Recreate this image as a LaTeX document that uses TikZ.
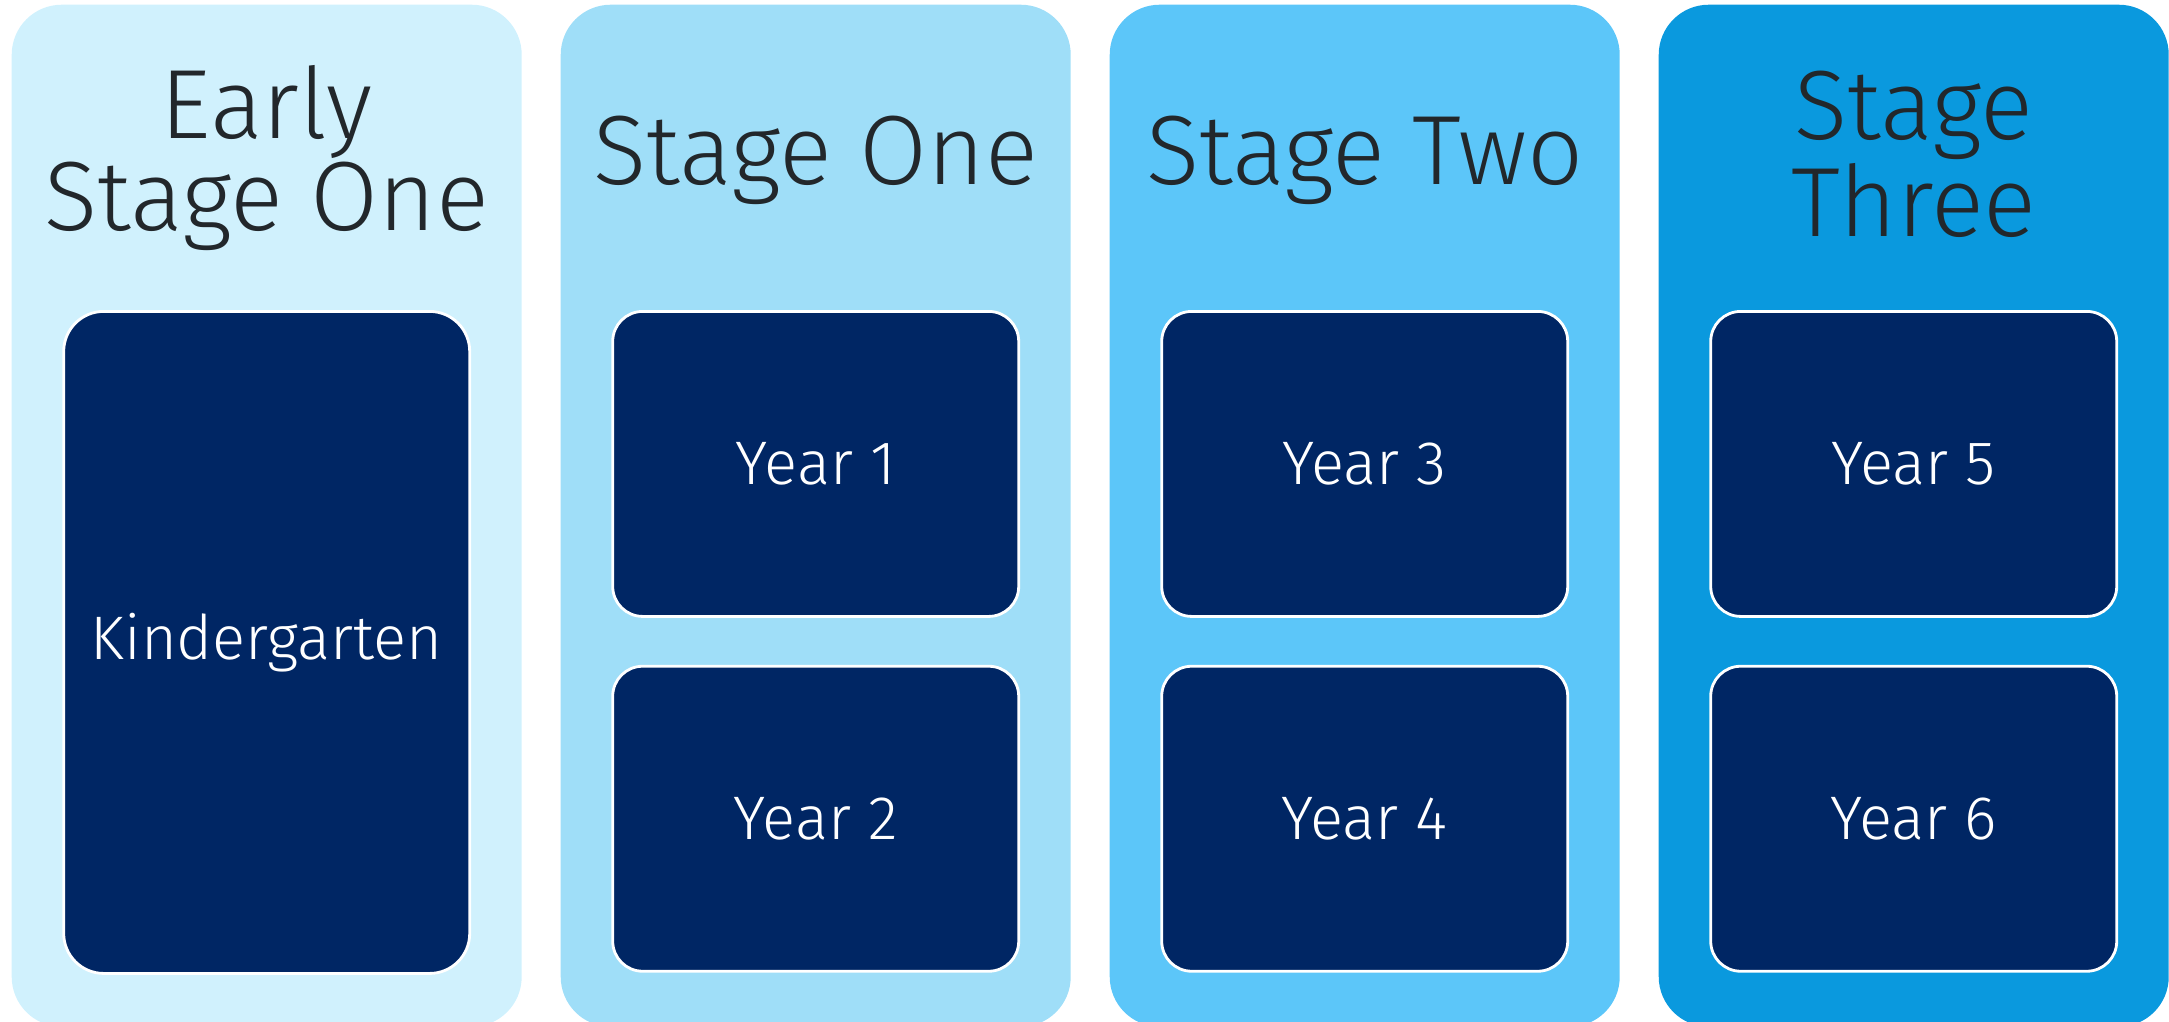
\documentclass[tikz,border=0pt]{standalone}
\usepackage{fontspec}
\setmainfont{Fira Sans}[UprightFont={* Light}]
\usetikzlibrary{positioning}

\definecolor{esone}{RGB}{208,241,253}
\definecolor{sone}{RGB}{159,222,248}
\definecolor{stwo}{RGB}{92,198,249}
\definecolor{sthree}{RGB}{10,153,222}
\definecolor{navy}{RGB}{0,38,100}
\definecolor{ink}{RGB}{34,39,43}

\begin{document}
\begin{tikzpicture}[
  node distance = 5.49cm,
  stage/.style={rectangle, rounded corners=0.5cm, minimum width=5.10cm, minimum height=10.22cm, inner sep=0pt},
  ybox/.style={rectangle, rounded corners=0.3cm, fill=navy, draw=white, line width=0.8pt, minimum width=4.06cm, minimum height=3.05cm, inner sep=0pt, text=white, font=\fontsize{17.5}{20}\selectfont},
  ttext/.style={text=ink, align=center, font=\fontsize{28}{26}\selectfont}
  ]

\useasboundingbox (0,0) rectangle (21.69,-10.21);

% stages

\node [stage, fill=esone, anchor=north west] (c1) at (0.11,-0.04) {};
\node [stage, fill=sone, right of=c1] (c2) {};
\node [stage, fill=stwo, right of=c2] (c3) {};
\node [stage, fill=sthree, right of=c3] (c4) {};

\node [ttext] (t1) at ([yshift=-1.54cm]c1.north) {Early\\Stage One};
\node [ttext] (t2) at ([yshift=-1.56cm]c2.north) {Stage One};
\node [ttext] (t3) at ([yshift=-1.56cm]c3.north) {Stage Two};
\node [ttext] (t4) at ([yshift=-1.50cm]c4.north) {Stage\\Three};

% years

\node [ybox, rounded corners=0.4cm, minimum height=6.62cm, below=3.06cm of c1.north] (k) {Kindergarten};

\node [ybox, below=3.06cm of c2.north] (y1) {Year 1};
\node [ybox, below=0.47cm of y1] (y2) {Year 2};

\node [ybox, below=3.06cm of c3.north] (y3) {Year 3};
\node [ybox, below=0.47cm of y3] (y4) {Year 4};

\node [ybox, below=3.06cm of c4.north] (y5) {Year 5};
\node [ybox, below=0.47cm of y5] (y6) {Year 6};

\end{tikzpicture}
\end{document}
